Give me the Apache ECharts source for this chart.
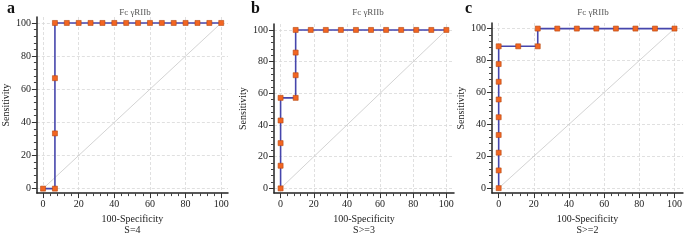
<!DOCTYPE html>
<html><head><meta charset="utf-8">
<script src="https://cdn.jsdelivr.net/npm/echarts@6/dist/echarts.min.js"></script>
<style>html,body{margin:0;padding:0;background:#fff}#c{width:685px;height:241px}</style>
</head><body><div id="c"></div>
<script>
// Panel a: 15 negatives, 3 positives
const rocA = [[0,0],[6.67,0],[6.67,33.33],[6.67,66.67],[6.67,100],[13.33,100],[20,100],[26.67,100],[33.33,100],[40,100],[46.67,100],[53.33,100],[60,100],[66.67,100],[73.33,100],[80,100],[86.67,100],[93.33,100],[100,100]];
// Panel b: 11 negatives, 7 positives
const rocB = [[0,0],[0,14.29],[0,28.57],[0,42.86],[0,57.14],[9.09,57.14],[9.09,71.43],[9.09,85.71],[9.09,100],[18.18,100],[27.27,100],[36.36,100],[45.45,100],[54.55,100],[63.64,100],[72.73,100],[81.82,100],[90.91,100],[100,100]];
// Panel c: 9 negatives, 9 positives
const rocC = [[0,0],[0,11.11],[0,22.22],[0,33.33],[0,44.44],[0,55.56],[0,66.67],[0,77.78],[0,88.89],[11.11,88.89],[22.22,88.89],[22.22,100],[33.33,100],[44.44,100],[55.56,100],[66.67,100],[77.78,100],[88.89,100],[100,100]];
const diagonal = [[0,0],[100,100]];
const majorTicks = [0,20,40,60,80,100];
const minorTicks = [4,8,12,16,24,28,32,36,44,48,52,56,64,68,72,76,84,88,92,96];
const panelLetters = ['a','b','c'];
const titleText = 'Fc γRIIb';
const xName = ['100-Specificity\nS=4','100-Specificity\nS>=3','100-Specificity\nS>=2'];
const yName = 'Sensitivity';

const serif = '"Liberation Serif", "DejaVu Serif", serif';
const panels = [
  {grid:{left:32, right:457, top:17, bottom:38}, x:[-3.45,103.8], y:[-2.7,103.6], data:rocA, title:130, letter:2},
  {grid:{left:274, right:231, top:24, bottom:38}, x:[-3.98,104.6], y:[-2.98,103.75], data:rocB, title:363, letter:246},
  {grid:{left:492, right:1.5, top:23, bottom:37}, x:[-3.8,104.8], y:[-3.1,103.5], data:rocC, title:588, letter:460}
];

const grid=[], xAxis=[], yAxis=[], series=[], title=[];
panels.forEach((p,i)=>{
  grid.push(p.grid);
  const base = {
    gridIndex:i, type:'value',
    axisLine:{show:true, onZero:false, lineStyle:{color:'#222', width:1.5}},
    axisTick:{show:true, customValues:majorTicks, length:5, lineStyle:{color:'#333', width:1}},
    axisLabel:{customValues:majorTicks, fontFamily:serif, fontSize:10, color:'#222', margin:6},
    splitLine:{show:true, lineStyle:{color:'#d8d8d8', type:[3,2], width:0.8}},
    nameLocation:'middle',
    nameTextStyle:{fontFamily:serif, fontSize:10, color:'#222', lineHeight:11}
  };
  const minorAx = {
    gridIndex:i, type:'value', show:true,
    axisLine:{show:false, onZero:false}, splitLine:{show:false},
    axisLabel:{show:true, customValues:minorTicks, formatter:()=>''},
    axisTick:{show:true, customValues:minorTicks, length:3, lineStyle:{color:'#444', width:1}}
  };
  xAxis.push(Object.assign({}, base, {min:p.x[0], max:p.x[1], name:xName[i], nameGap:19, position:'bottom'}));
  yAxis.push(Object.assign({}, base, {min:p.y[0], max:p.y[1], name:yName, nameGap:23, position:'left'}));
  xAxis.push(Object.assign({}, minorAx, {min:p.x[0], max:p.x[1], position:'bottom', offset:0}));
  yAxis.push(Object.assign({}, minorAx, {min:p.y[0], max:p.y[1], position:'left', offset:0}));
  series.push({type:'line', xAxisIndex:2*i, yAxisIndex:2*i, data:diagonal, symbol:'none',
    lineStyle:{color:'#c8c8c8', width:0.8}, silent:true, animation:false, z:1});
  series.push({type:'line', xAxisIndex:2*i, yAxisIndex:2*i, data:p.data, symbol:'rect', symbolSize:5,
    lineStyle:{color:'#4646ac', width:1.6},
    itemStyle:{color:'#f26522', borderColor:'#b5470f', borderWidth:0.6},
    animation:false, z:3});
  title.push({text:titleText, left:p.title, top:3, textAlign:'center',
    textStyle:{fontFamily:serif, fontSize:9, fontWeight:'normal', color:'#555'}});
  title.push({text:panelLetters[i], left:p.letter, top:-4,
    textStyle:{fontFamily:serif, fontSize:16, fontWeight:'bold', color:'#111'}});
});

const chart = echarts.init(document.getElementById('c'), null, {renderer:'canvas'});
chart.setOption({animation:false, backgroundColor:'#fff', title, grid, xAxis, yAxis, series});
</script>
</body></html>
